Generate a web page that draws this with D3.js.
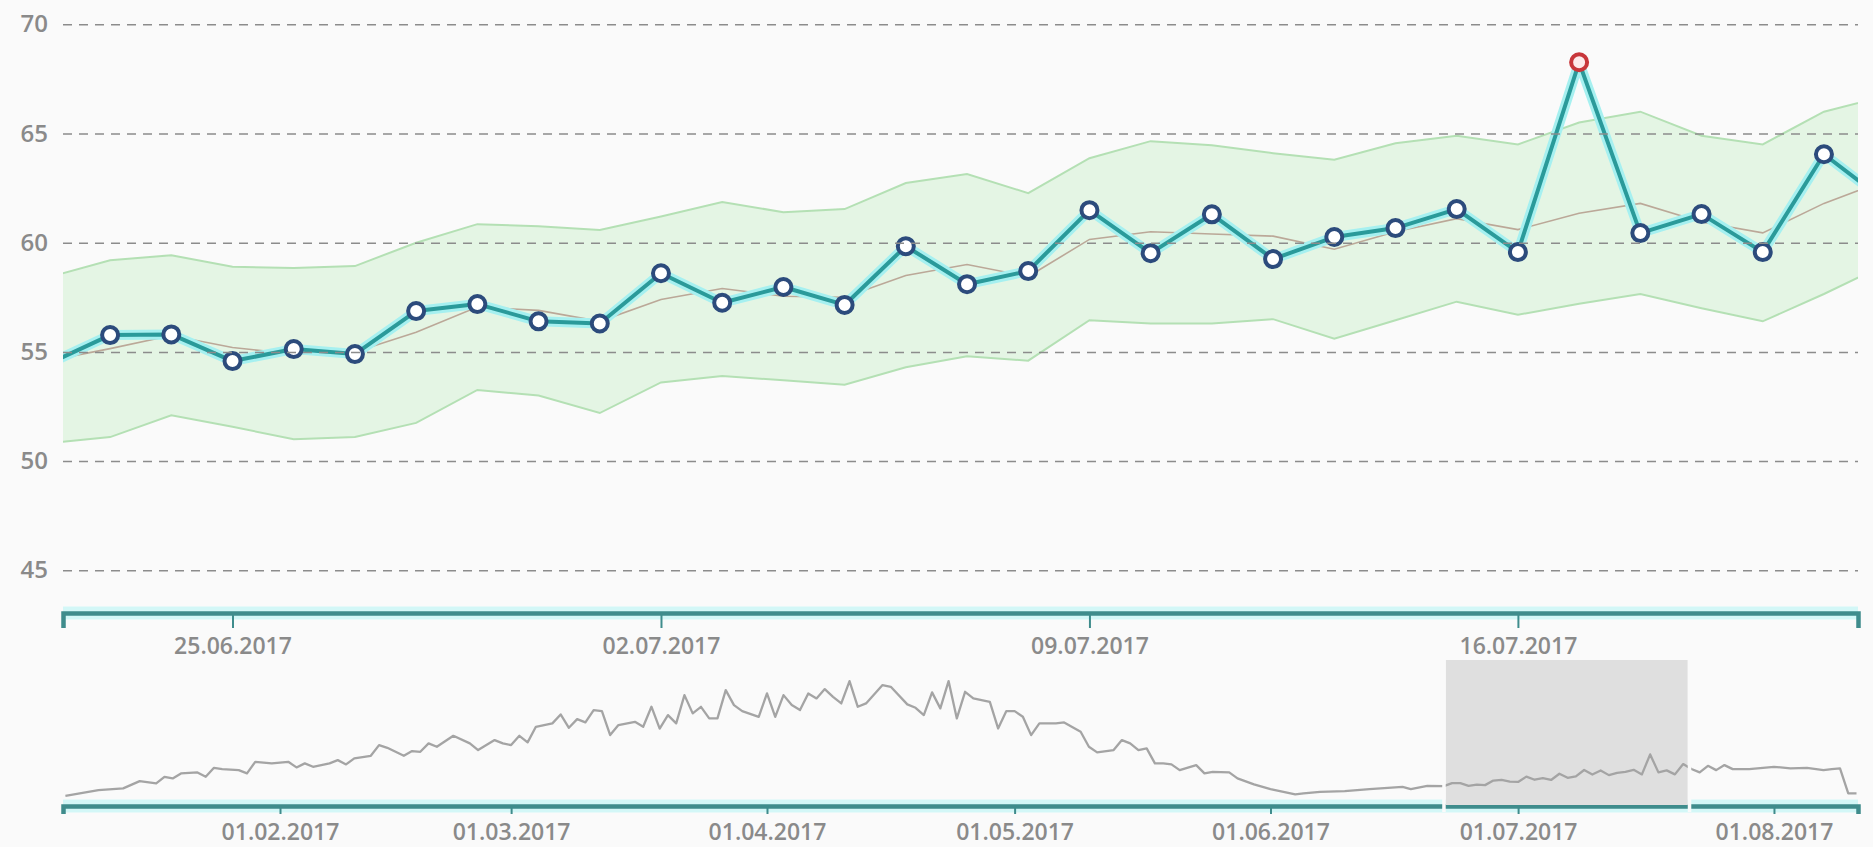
<!DOCTYPE html>
<html>
<head>
<meta charset="utf-8">
<script src="https://cdn.jsdelivr.net/npm/d3@7"></script>
<style>
  body { margin: 0; background: #fafafa; }
  svg { display: block; }
  text { font-family: "Open Sans", sans-serif; }
</style>
</head>
<body>
<div id="chart"></div>
<script>
// daily values shown in the zoomed view
const days = ["2017-06-22","2017-06-23","2017-06-24","2017-06-25","2017-06-26","2017-06-27","2017-06-28",
  "2017-06-29","2017-06-30","2017-07-01","2017-07-02","2017-07-03","2017-07-04","2017-07-05","2017-07-06",
  "2017-07-07","2017-07-08","2017-07-09","2017-07-10","2017-07-11","2017-07-12","2017-07-13","2017-07-14",
  "2017-07-15","2017-07-16","2017-07-17","2017-07-18","2017-07-19","2017-07-20","2017-07-21","2017-07-22"];
const values = [54.47,55.77,55.8,54.58,55.13,54.9,56.87,57.19,56.4,56.3,58.6,57.25,57.97,57.15,59.84,
  58.1,58.7,61.49,59.52,61.3,59.25,60.26,60.67,61.54,59.57,68.26,60.44,61.31,59.57,64.05,61.91];
const upper = [58.42,59.2,59.43,58.9,58.84,58.93,60.0,60.85,60.75,60.58,61.2,61.86,61.4,61.54,62.73,
  63.14,62.27,63.87,64.65,64.46,64.1,63.8,64.55,64.9,64.5,65.5,66.0,64.9,64.5,66.0,66.72];
const lower = [50.82,51.1,52.1,51.57,51.0,51.1,51.75,53.26,53.0,52.2,53.6,53.9,53.7,53.5,54.3,
  54.8,54.6,56.45,56.3,56.3,56.5,55.6,56.45,57.3,56.7,57.2,57.65,57.0,56.4,57.65,59.0];
const mean = [54.6,55.15,55.75,55.2,54.9,55.0,55.9,57.05,56.9,56.4,57.4,57.9,57.55,57.5,58.5,
  59.0,58.45,60.15,60.5,60.4,60.3,59.7,60.5,61.1,60.6,61.35,61.8,60.95,60.45,61.8,62.85];

// overview series before and after the zoomed period
const earlyDates = ["2017-01-06","2017-01-10","2017-01-13","2017-01-15","2017-01-17","2017-01-18","2017-01-19",
  "2017-01-20","2017-01-22","2017-01-23","2017-01-24","2017-01-25","2017-01-27","2017-01-28","2017-01-29",
  "2017-01-31","2017-02-02","2017-02-03","2017-02-04","2017-02-05","2017-02-07","2017-02-08","2017-02-09",
  "2017-02-10","2017-02-12","2017-02-13","2017-02-14","2017-02-16","2017-02-17","2017-02-18","2017-02-19",
  "2017-02-20","2017-02-22","2017-02-24","2017-02-25","2017-02-27","2017-02-28","2017-03-01","2017-03-02",
  "2017-03-03","2017-03-04","2017-03-06","2017-03-07","2017-03-08","2017-03-09","2017-03-10","2017-03-11",
  "2017-03-12","2017-03-13","2017-03-14","2017-03-16","2017-03-17","2017-03-18","2017-03-19","2017-03-20",
  "2017-03-21","2017-03-22","2017-03-23","2017-03-24","2017-03-25","2017-03-26","2017-03-27","2017-03-28",
  "2017-03-29","2017-03-31","2017-04-01","2017-04-02","2017-04-03","2017-04-04","2017-04-05","2017-04-06",
  "2017-04-07","2017-04-08","2017-04-09","2017-04-10","2017-04-11","2017-04-12","2017-04-13","2017-04-15",
  "2017-04-16","2017-04-18","2017-04-19","2017-04-20","2017-04-21","2017-04-22","2017-04-23","2017-04-24",
  "2017-04-25","2017-04-26","2017-04-28","2017-04-29","2017-04-30","2017-05-01","2017-05-02","2017-05-03",
  "2017-05-04","2017-05-06","2017-05-07","2017-05-09","2017-05-10","2017-05-11","2017-05-13","2017-05-14",
  "2017-05-15","2017-05-16","2017-05-17","2017-05-18","2017-05-19","2017-05-20","2017-05-21","2017-05-23",
  "2017-05-24","2017-05-25","2017-05-27","2017-05-28","2017-05-30","2017-06-01","2017-06-04","2017-06-05",
  "2017-06-07","2017-06-10","2017-06-13","2017-06-17","2017-06-18","2017-06-20"];
const earlyValues = [50.26,52.74,53.48,56.65,55.65,58.52,57.83,60.0,60.43,58.52,62.43,61.87,61.43,60.0,65.04,
  64.35,65.04,62.6,64.35,62.87,64.35,65.78,63.91,66.52,67.65,72.3,71.13,67.65,69.7,69.39,73.04,
  71.57,76.35,73.04,70.13,74.48,73.04,72.3,76.35,73.48,80.26,81.74,85.65,79.83,83.6,82.17,87.52,
  87.09,76.65,81.0,82.43,80.26,89.0,79.5,85.35,81.74,94.04,86.09,88.96,83.91,83.91,96.22,89.7,
  87.09,84.61,94.78,84.61,94.04,89.7,87.52,94.78,92.61,96.65,93.3,90.43,100.13,88.96,90.43,98.39,
  97.65,90.0,88.52,85.35,95.22,88.26,100.13,83.91,95.48,92.61,91.13,79.57,87.09,87.09,84.61,76.65,
  81.74,81.74,82.17,78.09,71.57,69.13,70.13,74.48,73.04,70.13,70.87,64.35,64.35,63.91,61.43,63.61,
  60.0,60.7,60.43,57.83,55.22,53.17,50.87,51.3,52.0,52.3,53.17,54.17,53.17,54.6];
const lateDates = ["2017-07-23","2017-07-24","2017-07-25","2017-07-26","2017-07-27","2017-07-29","2017-08-01",
  "2017-08-03","2017-08-05","2017-08-07","2017-08-08","2017-08-09","2017-08-10","2017-08-11"];
const lateValues = [60.43,63.3,61.43,63.61,61.87,61.87,62.87,62.17,62.43,61.43,61.87,62.17,51.3,51.3];

const yTicks = [45, 50, 55, 60, 65, 70];

const parse = d3.timeParse("%Y-%m-%d");
const fmt = d3.timeFormat("%d.%m.%Y");

const W = 1873, H = 847;
const left = 63, right = 1858;
const axisY = 613, miniAxisY = 806;

const svg = d3.select("#chart").append("svg").attr("width", W).attr("height", H);
svg.append("rect").attr("width", W).attr("height", H).attr("fill", "#fafafa");

const x = d3.scaleTime()
  .domain([new Date(2017, 5, 22, 5, 32), new Date(2017, 6, 21, 13, 21)])
  .range([left, right]);
const y = d3.scaleLinear().domain([45, 70]).range([570.3, 24.3]);

const pts = days.map((d, i) => ({
  date: parse(d), v: values[i], up: upper[i], lo: lower[i], m: mean[i]
}));

svg.append("clipPath").attr("id", "clip")
  .append("rect").attr("x", left).attr("y", 0).attr("width", right - left).attr("height", 600);

const plot = svg.append("g").attr("clip-path", "url(#clip)");

// band
plot.append("path").datum(pts)
  .attr("fill", "#e4f5e4")
  .attr("d", d3.area().x(d => x(d.date)).y0(d => y(d.lo)).y1(d => y(d.up)));

// grid + y labels
const yAxis = svg.append("g")
  .attr("transform", `translate(${left},0)`)
  .call(d3.axisLeft(y).tickValues(yTicks).tickSize(-(right - left)).tickPadding(15));
yAxis.select(".domain").remove();
yAxis.selectAll(".tick line")
  .attr("stroke", "#8c8c8c").attr("stroke-width", 1.5).attr("stroke-dasharray", "9,7");
yAxis.selectAll(".tick text")
  .attr("fill", "#8a8a8a").style("font-size", "24px").style("font-weight", "600");

["up", "lo"].forEach(k => {
  plot.append("path").datum(pts)
    .attr("fill", "none").attr("stroke", "#b4e0b4").attr("stroke-width", 2)
    .attr("d", d3.line().x(d => x(d.date)).y(d => y(d[k])));
});

plot.append("path").datum(pts)
  .attr("fill", "none").attr("stroke", "#bba898").attr("stroke-width", 1.6)
  .attr("d", d3.line().x(d => x(d.date)).y(d => y(d.m)));

const line = d3.line().x(d => x(d.date)).y(d => y(d.v));
plot.append("path").datum(pts)
  .attr("fill", "none").attr("stroke", "#a6f0f0").attr("stroke-width", 10)
  .attr("stroke-linejoin", "round").attr("d", line);
plot.append("path").datum(pts)
  .attr("fill", "none").attr("stroke", "#2a9a9a").attr("stroke-width", 4)
  .attr("stroke-linejoin", "round").attr("d", line);

plot.selectAll("circle.pt").data(pts).enter().append("circle")
  .attr("class", "pt")
  .attr("cx", d => x(d.date)).attr("cy", d => y(d.v)).attr("r", 8)
  .attr("fill", d => d.v > d.up ? "#fdeaea" : "#ffffff")
  .attr("stroke", d => d.v > d.up ? "#c8363a" : "#2c4b7c")
  .attr("stroke-width", 4);

// axis drawing helper
function drawAxis(scale, ty, ticks, size, labelY) {
  svg.append("line")
    .attr("x1", left).attr("x2", right).attr("y1", ty).attr("y2", ty)
    .attr("stroke", "#d3f7f7").attr("stroke-width", 13);
  const g = svg.append("g").attr("transform", `translate(0,${ty})`)
    .call(d3.axisBottom(scale).ticks(ticks).tickFormat(fmt).tickSize(size).tickSizeOuter(size));
  g.select(".domain").attr("stroke", "#3f8c8c").attr("stroke-width", 4.5);
  g.selectAll(".tick line").attr("stroke", "#3f8c8c").attr("stroke-width", 2);
  g.selectAll(".tick text")
    .attr("y", labelY).attr("dy", "0.35em")
    .attr("fill", "#8a8a8a").style("font-size", "23px").style("font-weight", "600");
  return g;
}

drawAxis(x, axisY, d3.timeWeek, 15, 33);

// overview
const xm = d3.scaleTime()
  .domain([new Date(2017, 0, 5, 17, 0), new Date(2017, 7, 11, 4, 20)])
  .range([left, right]);
const ym = d3.scaleLinear().domain([50, 100]).range([796.4, 681.4]);

const miniPts = earlyDates.concat(days, lateDates).map((d, i) => ({
  date: parse(d), v: earlyValues.concat(values, lateValues)[i]
}));

drawAxis(xm, miniAxisY, d3.timeMonth, 8, 26);

const bx0 = xm(x.domain()[0]), bx1 = xm(x.domain()[1]);
svg.append("rect")
  .attr("x", bx0).attr("y", 660).attr("width", bx1 - bx0).attr("height", miniAxisY - 1 - 660)
  .attr("fill", "#dfdfdf");

svg.append("path").datum(miniPts)
  .attr("fill", "none").attr("stroke", "#a4a4a4").attr("stroke-width", 2.3)
  .attr("stroke-linejoin", "round")
  .attr("d", d3.line().x(d => xm(d.date)).y(d => ym(d.v)));

[bx0 - 3.5, bx1].forEach(hx => {
  svg.append("rect")
    .attr("x", hx).attr("y", 660).attr("width", 3.5).attr("height", 152)
    .attr("fill", "#fafafa");
});
</script>
</body>
</html>
